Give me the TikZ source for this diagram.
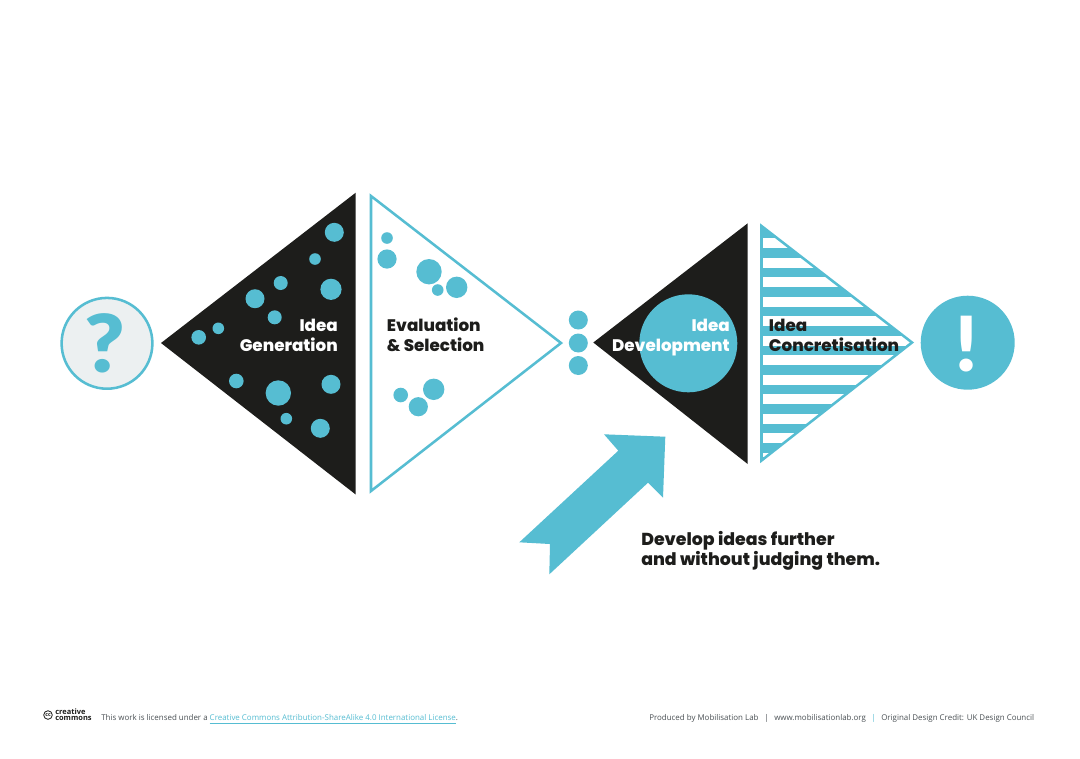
\documentclass[tikz,border=0pt]{standalone}
\usepackage{fontspec}
\setmainfont{Open Sans}
\newfontfamily\mont{Poppins ExtraBold}
\newfontfamily\glyphfont{Lato Black}
\definecolor{teal}{HTML}{56BDD2}
\definecolor{ink}{HTML}{1D1D1B}
\definecolor{pale}{HTML}{ECF0F1}
\definecolor{foot}{HTML}{4A5054}
\tikzset{
  x=0.75pt,y=-0.75pt,
  dot/.style={fill=teal},
  head/.style={inner sep=0pt,font=\mont\fontsize{12.55}{14.4}\selectfont},
  big/.style={inner sep=0pt,font=\mont\fontsize{13}{15}\selectfont},
  foottext/.style={inner sep=0pt,anchor=base west,text=foot,font=\fontsize{5.95}{7}\selectfont},
}
\newcommand{\bub}[3]{\fill[dot] (#1,#2) circle[radius=#3];}
\begin{document}
\begin{tikzpicture}
\useasboundingbox (0,0) rectangle (1080,758);
\fill[white] (0,0) rectangle (1080,758);
% question circle
\draw[fill=pale,draw=teal,line width=1.9pt] (107,343.3) circle[radius=45.4];
\node[inner sep=0pt,text=teal,font=\glyphfont\fontsize{60}{60}\selectfont,xscale=1.08] (qmark) at (105,343) {?};
% triangle 1
\fill[ink] (161,343) -- (355.7,192.7) -- (355.7,494.5) -- cycle;
\bub{334.3}{232.3}{9.5}\bub{315}{259}{5.8}\bub{331}{289.3}{10.6}\bub{280.7}{283}{7}
\bub{255}{298.7}{9.5}\bub{274.7}{317.3}{7}\bub{218.3}{328.3}{5.8}\bub{198.7}{337.3}{7.3}
\bub{236.3}{381}{7.3}\bub{278.3}{393}{12.7}\bub{331}{384.3}{9.5}\bub{286.3}{418.7}{5.8}\bub{320.3}{428.3}{9.5}
\node[head,anchor=base east,text=white] (gen1) at (338,331.7) {Idea};
\node[head,anchor=base east,text=white] (gen2) at (338,351) {Generation};
% triangle 2
\draw[draw=teal,fill=white,line width=1.9pt,miter limit=10] (371,196) -- (561,343) -- (371,491) -- cycle;
\bub{387}{238}{5.8}\bub{387}{259}{9.6}\bub{429}{271.7}{12.7}\bub{437.7}{290}{5.8}\bub{456.7}{287.3}{10.7}
\bub{400.7}{395}{7.3}\bub{418.3}{406.7}{9.6}\bub{433.7}{389.3}{10.7}
\node[head,anchor=base west,text=ink] (eval1) at (386.7,331.7) {Evaluation};
\node[head,anchor=base west,text=ink] (eval2) at (386.7,351) {\&\ Selection};
% three dots
\bub{578.3}{320}{9.5}\bub{578.3}{343}{9.5}\bub{578.3}{365.5}{9.5}
% triangle 3
\fill[ink] (593.3,342.5) -- (747.7,223.3) -- (747.7,464) -- cycle;
\fill[teal] (688.3,343.3) circle[radius=49];
\node[head,anchor=base east,text=white] (dev1) at (730,331.7) {Idea};
\node[head,anchor=base east,text=white] (dev2) at (730,351) {Development};
% triangle 4
\begin{scope}
\clip (761.5,226) -- (912,342.5) -- (761.5,460.5) -- cycle;
\fill[teal] (755,220) rectangle (920,238.3);
\foreach \k in {1,...,11}{
  \fill[teal] (755,{228.7+19.5*\k}) rectangle (920,{238.3+19.5*\k});
}
\fill[teal] (755,457) rectangle (920,470);
\end{scope}
\draw[draw=teal,line width=1.9pt,miter limit=10] (761.5,226) -- (912,342.5) -- (761.5,460.5) -- cycle;
\node[head,anchor=base west,text=ink] (con1) at (768.7,331.7) {Idea};
\node[head,anchor=base west,text=ink] (con2) at (768.7,351) {Concretisation};
% exclamation
\fill[teal] (967.7,342.7) circle[radius=47];
\node[inner sep=0pt,text=white,font=\glyphfont\fontsize{57}{57}\selectfont] (emark) at (967,344) {!};
% arrow
\fill[teal] (604,434.3) -- (665.3,436.7) -- (663,497.7) -- (648,482.7) -- (549.3,574.3) -- (550,544) -- (519.3,542.3) -- (618.3,450.7) -- cycle;
\node[big,anchor=base west,text=ink] (dev3) at (641,545) {Develop ideas further};
\node[big,anchor=base west,text=ink] (dev4) at (641,565) {and without judging them.};
% footer
\draw[ink,line width=0.6pt] (48,715) circle[radius=4.3];
\node[inner sep=0pt,font=\fontsize{4}{4}\selectfont\bfseries,text=ink] (cc) at (48,714.6) {cc};
\node[inner sep=0pt,anchor=base west,font=\fontsize{5.6}{6}\selectfont\bfseries,text=ink] (cr1) at (55,714) {creative};
\node[inner sep=0pt,anchor=base west,font=\fontsize{5.6}{6}\selectfont\bfseries,text=ink] (cr2) at (55,720) {commons};
\node[foottext] (lic) at (101,720.8) {This work is licensed under a \textcolor{teal}{\underline{Creative Commons Attribution-ShareAlike 4.0 International License}}.};
\node[foottext] (p1) at (649,720.8) {Produced by Mobilisation Lab};
\node[foottext] (p2) at (764,720.8) {|};
\node[foottext] (p3) at (774,720.8) {www.mobilisationlab.org};
\node[foottext,text=teal] (p4) at (871,720.8) {|};
\node[foottext] (p5) at (881,720.8) {Original Design Credit: UK Design Council};
\end{tikzpicture}
\end{document}
